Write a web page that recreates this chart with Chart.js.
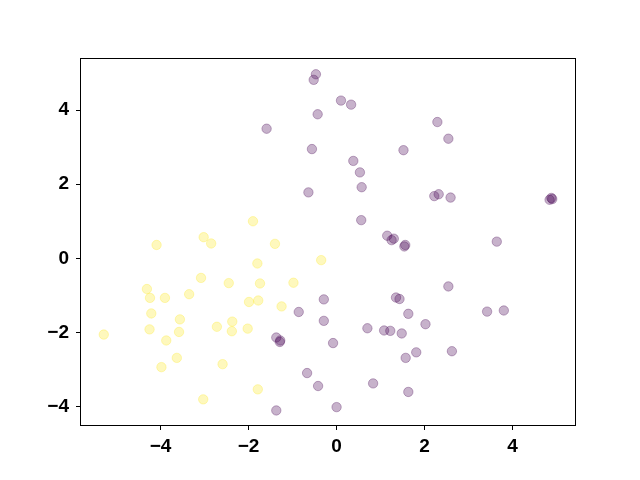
<!DOCTYPE html>
<html>
<head>
<meta charset="utf-8">
<script src="https://cdn.jsdelivr.net/npm/chart.js@4"></script>
<style>
  html, body { margin: 0; padding: 0; background: #fff; }
  #wrap { width: 640px; height: 480px; }
</style>
</head>
<body>
<div id="wrap"><canvas id="scatterChart" width="640" height="480"></canvas></div>
<script>
// cluster A (purple)
const purpleX = [-0.47, -0.52, -0.43, -1.59, -0.56, -0.64, 0.10, 0.33, 2.29, 2.54, 1.52, 0.38, 0.53, 0.57,
  2.22, 2.32, 2.59, 4.84, 4.88, 4.90, 0.56, 3.64, 1.15, 1.25, 1.30, 1.54, 1.56,
  2.54, -0.29, 1.35, 1.43, 1.63, 2.02, 0.70, 1.08, 1.22, 1.48, 3.42, 3.80, -0.86, -0.29,
  -1.37, -1.28, -1.29, -0.08, 1.81, 1.57, 2.62, -0.67, -0.42, 0.83, 1.63, -1.37, 0.00];
const purpleY = [4.97, 4.82, 3.89, 3.50, 2.95, 1.78, 4.26, 4.15, 3.68, 3.23, 2.92, 2.63, 2.32, 1.92,
  1.68, 1.73, 1.64, 1.58, 1.63, 1.60, 1.03, 0.45, 0.61, 0.49, 0.53, 0.32, 0.36,
  -0.76, -1.11, -1.06, -1.10, -1.50, -1.78, -1.89, -1.95, -1.96, -2.03, -1.44, -1.41, -1.45, -1.69,
  -2.14, -2.22, -2.26, -2.29, -2.54, -2.69, -2.51, -3.10, -3.45, -3.38, -3.61, -4.11, -4.02];

// cluster B (yellow)
const yellowX = [-1.90, -3.02, -2.85, -4.09, -1.40, -1.80, -0.35, -3.08, -2.45, -1.74, -0.98, -4.31, -4.24,
  -3.90, -3.35, -1.99, -1.78, -1.25, -4.21, -3.56, -4.25, -3.58, -3.87, -2.72, -2.37, -2.38, -2.02,
  -5.29, -3.63, -3.98, -2.59, -1.79, -3.03];
const yellowY = [1.00, 0.57, 0.40, 0.36, 0.39, -0.14, -0.05, -0.53, -0.67, -0.68, -0.66, -0.83, -1.07,
  -1.07, -0.97, -1.18, -1.14, -1.30, -1.49, -1.65, -1.92, -1.99, -2.22, -1.85, -1.71, -1.97, -1.90,
  -2.06, -2.69, -2.94, -2.86, -3.54, -3.81];

const xTicks = [-4, -2, 0, 2, 4];
const yTicks = [-4, -2, 0, 2, 4];

function toPoints(xs, ys) {
  return xs.map((x, i) => ({ x: x, y: ys[i] }));
}

// frame around the plot area (all four sides)
const boxPlugin = {
  id: 'box',
  afterDraw(chart) {
    const a = chart.chartArea;
    const ctx = chart.ctx;
    ctx.save();
    ctx.strokeStyle = '#000';
    ctx.lineWidth = 1;
    ctx.strokeRect(a.left + 0.5, a.top + 0.5, a.right - a.left - 1, a.bottom - a.top - 1);
    ctx.restore();
  }
};

const tickFont = { family: '"Liberation Sans", Arial, sans-serif', size: 19, weight: 'bold' };
const minusLabel = v => (v < 0 ? '\u2212' + Math.abs(v) : String(v));

new Chart(document.getElementById('scatterChart').getContext('2d'), {
  type: 'scatter',
  data: {
    datasets: [
      {
        data: toPoints(purpleX, purpleY),
        backgroundColor: 'rgba(68, 1, 84, 0.3)',
        borderColor: 'rgba(68, 1, 84, 0.3)',
        borderWidth: 1,
        pointRadius: 4.7,
        pointHoverRadius: 4.7
      },
      {
        data: toPoints(yellowX, yellowY),
        backgroundColor: 'rgba(253, 231, 37, 0.3)',
        borderColor: 'rgba(253, 231, 37, 0.3)',
        borderWidth: 1,
        pointRadius: 4.7,
        pointHoverRadius: 4.7
      }
    ]
  },
  options: {
    responsive: false,
    animation: false,
    layout: { padding: { left: 0, top: 58, right: 64, bottom: 0 } },
    plugins: { legend: { display: false }, tooltip: { enabled: false } },
    scales: {
      x: {
        type: 'linear',
        min: -5.83,
        max: 5.44,
        afterFit(scale) { scale.height = 54; },
        afterBuildTicks(scale) { scale.ticks = xTicks.map(v => ({ value: v })); },
        grid: { drawOnChartArea: false, drawTicks: true, tickLength: 4, color: '#000' },
        border: { display: false },
        ticks: { color: '#000', font: tickFont, padding: 5, maxRotation: 0, callback: minusLabel }
      },
      y: {
        type: 'linear',
        min: -4.53,
        max: 5.41,
        afterFit(scale) { scale.width = 80; },
        afterBuildTicks(scale) { scale.ticks = yTicks.map(v => ({ value: v })); },
        grid: { drawOnChartArea: false, drawTicks: true, tickLength: 4, color: '#000' },
        border: { display: false },
        ticks: { color: '#000', font: tickFont, padding: 7, callback: minusLabel }
      }
    }
  },
  plugins: [boxPlugin]
});
</script>
</body>
</html>
